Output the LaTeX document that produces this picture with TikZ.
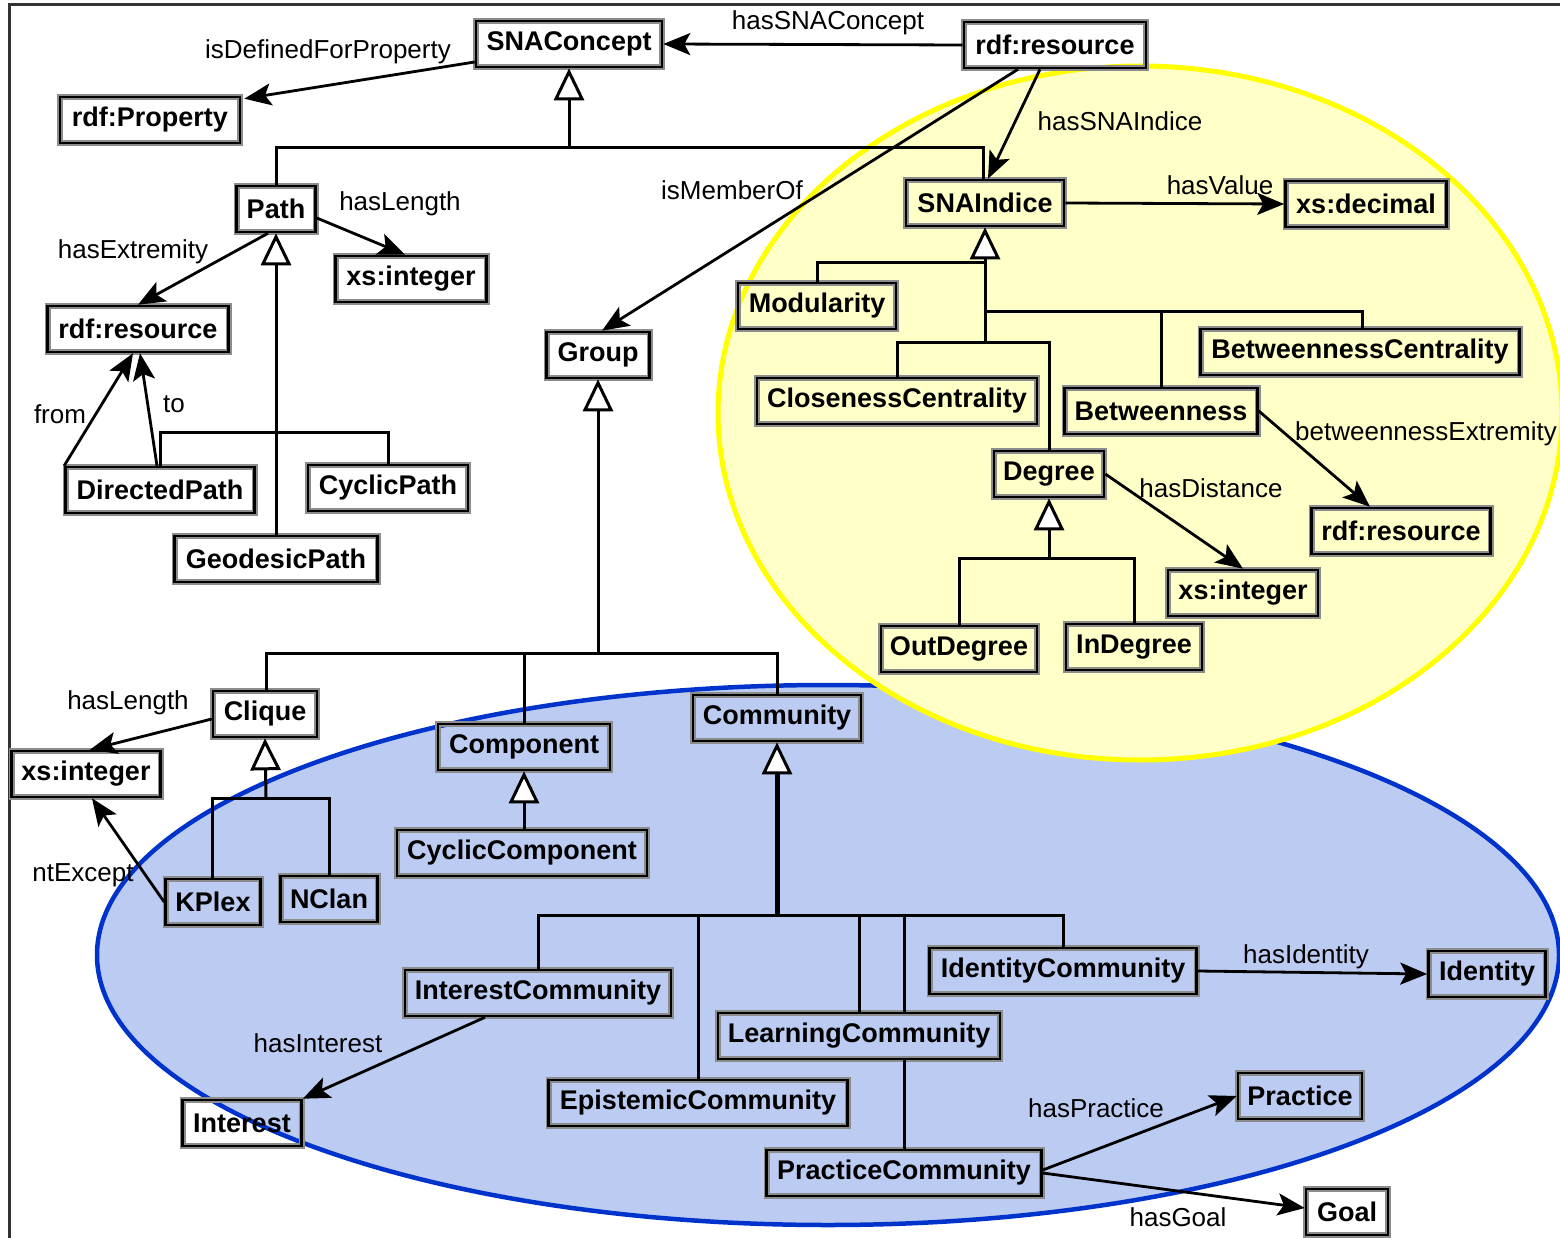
\documentclass[tikz,border=0pt]{standalone}
\usepackage{fontspec}
\setmainfont{Liberation Sans}
\usetikzlibrary{arrows.meta}
\definecolor{bluefill}{RGB}{188,203,242}
\definecolor{blueline}{RGB}{0,51,204}
\definecolor{yelfill}{RGB}{255,255,200}
\definecolor{yelline}{RGB}{255,255,0}
\begin{document}
\begin{tikzpicture}[x=1pt,y=-1pt,
  cls/.style={draw=black, line width=2.6pt, preaction={draw=black!45, line width=6pt},
    font=\fontsize{27}{30}\selectfont\bfseries,
    inner sep=0pt, minimum height=46pt},
  lbl/.style={font=\fontsize{26}{30}\selectfont, inner sep=0pt},
  rel/.style={line width=2.8pt, -{Stealth[length=27pt,width=22pt,inset=6pt]}},
  isa/.style={line width=3pt, -{Triangle[open,fill=white,length=32pt,width=30pt,line width=3pt]}},
  bus/.style={line width=3pt},
]
\useasboundingbox (0,0) rectangle (1560,1238);
\fill[white] (0,0) rectangle (1560,1238);
% frame
\draw[line width=3pt, black!80] (9,1238) -- (9,5) -- (1560,5);
% regions
\draw[fill=bluefill, draw=blueline, line width=4.5pt] (828,955) ellipse [x radius=731, y radius=270];
\draw[fill=yelfill, draw=yelline, line width=5pt] (1140,413) ellipse [x radius=422, y radius=347];

% classes
\node[cls, minimum width=186pt] (SNAConcept) at (569,44) {SNAConcept};
\node[cls, minimum width=182pt] (rdfRes) at (1055,45) {rdf:resource};
\node[cls, minimum width=180pt] (rdfProp) at (150,120) {rdf:Property};
\node[cls, minimum width=79pt] (Path) at (276,209) {Path};
\node[cls, minimum width=151pt] (xsIntP) at (411,279) {xs:integer};
\node[cls, minimum width=181pt] (rdfResL) at (138,329) {rdf:resource};
\node[cls, minimum width=189pt] (DirPath) at (160,490) {DirectedPath};
\node[cls, minimum width=160pt] (CycPath) at (388,488) {CyclicPath};
\node[cls, minimum width=203pt] (GeoPath) at (276,559) {GeodesicPath};
\node[cls, minimum width=103pt] (Group) at (598,355) {Group};
\node[cls, minimum width=158pt] (SNAIndice) at (985,203) {SNAIndice};
\node[cls, minimum width=161pt] (xsDec) at (1366,204) {xs:decimal};
\node[cls, minimum width=158pt] (Modularity) at (817,306) {Modularity};
\node[cls, minimum width=280pt] (Closeness) at (897,401) {ClosenessCentrality};
\node[cls, minimum width=319pt] (BetwC) at (1360,352) {BetweennessCentrality};
\node[cls, minimum width=193pt] (Betw) at (1161,411) {Betweenness};
\node[cls, minimum width=110pt] (Degree) at (1049,474) {Degree};
\node[cls, minimum width=179pt] (rdfResR) at (1401,531) {rdf:resource};
\node[cls, minimum width=150pt] (xsIntR) at (1243,593) {xs:integer};
\node[cls, minimum width=156pt] (OutDeg) at (959,649) {OutDegree};
\node[cls, minimum width=136pt] (InDeg) at (1134,647) {InDegree};
\node[cls, minimum width=104pt] (Clique) at (265,714) {Clique};
\node[cls, minimum width=149pt] (xsIntL) at (86,774) {xs:integer};
\node[cls, minimum width=172pt] (Component) at (524,747) {Component};
\node[cls, minimum width=168pt] (Community) at (777,718) {Community};
\node[cls, minimum width=250pt] (CycComp) at (522,853) {CyclicComponent};
\node[cls, minimum width=95pt] (KPlex) at (213,902) {KPlex};
\node[cls, minimum width=97pt] (NClan) at (329,899) {NClan};
\node[cls, minimum width=266pt] (IntComm) at (538,993) {InterestCommunity};
\node[cls, minimum width=267pt] (IdComm) at (1063,971) {IdentityCommunity};
\node[cls, minimum width=117pt] (Identity) at (1487,974) {Identity};
\node[cls, minimum width=282pt] (LearnComm) at (859,1036) {LearningCommunity};
\node[cls, minimum width=299pt] (EpiComm) at (698,1103) {EpistemicCommunity};
\node[cls, minimum width=119pt] (Interest) at (242,1123) {Interest};
\node[cls, minimum width=275pt] (PracComm) at (904,1173) {PracticeCommunity};
\node[cls, minimum width=124pt] (Practice) at (1300,1096) {Practice};
\node[cls, minimum width=82pt] (Goal) at (1347,1212) {Goal};

% inheritance: SNAConcept
\coordinate (b1) at (569,148);
\draw[isa] (b1) -- (SNAConcept.south);
\draw[bus] (Path.north) |- (b1);
\draw[bus] ([xshift=-2pt]SNAIndice.north) |- (b1);
% Path
\coordinate (b2) at (276,432);
\draw[isa] (GeoPath.north) -- (Path.south);
\draw[bus] (DirPath.north) |- (b2) -| (CycPath.north);
% Group
\coordinate (b3) at (598,653);
\draw[isa] (b3) -- (Group.south);
\draw[bus] ([xshift=1pt]Clique.north) |- (b3) -| (Community.north);
\draw[bus] (Component.north) -- (Component.north |- b3);
% SNAIndice
\coordinate (s0) at (985,343);
\coordinate (s1) at (985,263);
\coordinate (s2) at (985,312);
\draw[isa] (s0) -- (SNAIndice.south);
\draw[bus] (Modularity.north) |- (s1);
\draw[bus] ([xshift=2pt]BetwC.north) |- (s2);
\draw[bus] (Betw.north) -- (Betw.north |- s2);
\draw[bus] (Closeness.north) |- (s0) -| (Degree.north);
% Degree
\coordinate (d0) at (1049,558);
\draw[isa] (d0) -- (Degree.south);
\draw[bus] (OutDeg.north) |- (d0) -| (InDeg.north);
% Clique
\coordinate (c0) at (266,798);
\draw[isa] (c0) -- (Clique.south);
\draw[bus] ([xshift=-1pt]KPlex.north) |- (c0) -| (NClan.north);
% Component
\draw[isa] (Component.south |- CycComp.north) -- (Component.south);
% Community
\coordinate (m0) at (777,915);
\draw[line width=5pt, -{Triangle[open,fill=white,length=32pt,width=30pt,line width=3pt]}] (m0) -- (Community.south);
\draw[bus] (IntComm.north) |- (m0) -| (IdComm.north);
\draw[bus] (EpiComm.north) -- (EpiComm.north |- m0);
\draw[bus] (LearnComm.north) -- (LearnComm.north |- m0);
\draw[bus] (m0 -| PracComm.north) -- (PracComm.north |- LearnComm.north);
\draw[bus] (PracComm.north |- LearnComm.south) -- (PracComm.north);

% properties
\draw[rel] (rdfRes.west) -- (SNAConcept.east);
\node[lbl] (lSNAC) at (828,23) {hasSNAConcept};
\draw[rel] ([yshift=-18pt]SNAConcept.west) -- ([xshift=3pt,yshift=-3pt]rdfProp.north east);
\node[lbl] (lDef) at (328,52) {isDefinedForProperty};
\draw[rel] ([xshift=-15pt]rdfRes.south) -- ([xshift=3pt]SNAIndice.north);
\node[lbl] (lInd) at (1120,121) {hasSNAIndice};
\draw[rel] ([xshift=-37pt]rdfRes.south) -- ([xshift=4pt]Group.north);
\node[lbl] (lMem) at (732,190) {isMemberOf};
\draw[rel] ([yshift=-9pt]Path.east) -- ([xshift=-6pt]xsIntP.north);
\node[lbl] (lLen) at (400,204) {hasLength};
\draw[rel] ([xshift=-8pt]Path.south) -- (rdfResL.north);
\node[lbl] (lExt) at (133,252) {hasExtremity};
\draw[rel] (DirPath.north west) -- ([xshift=-5pt]rdfResL.south);
\node[lbl] (lFrom) at (60,414) {from};
\draw[rel] ([xshift=-3pt]DirPath.north) -- ([xshift=2pt]rdfResL.south);
\node[lbl] (lTo) at (174,404) {to};
\draw[rel] (SNAIndice.east) -- (xsDec.west);
\node[lbl] (lVal) at (1220,185) {hasValue};
\draw[rel] (Betw.east) -- ([xshift=-31pt]rdfResR.north);
\node[lbl, anchor=west] (lBE) at (1295,434) {betweennessExtremity};
\draw[rel] (Degree.east) -- (xsIntR.north);
\node[lbl] (lDist) at (1211,488) {hasDistance};
\draw[rel] ([yshift=-5pt]Clique.west) -- ([xshift=4pt]xsIntL.north);
\node[lbl] (lLen2) at (128,703) {hasLength};
\draw[rel] (KPlex.west) -- ([xshift=6pt]xsIntL.south);
\node[lbl] (lNt) at (83,875) {ntExcept};
\draw[rel] ([xshift=-53pt]IntComm.south) -- (Interest.north east);
\node[lbl] (lInt) at (318,1043) {hasInterest};
\draw[rel] (IdComm.east) -- (Identity.west);
\node[lbl] (lId) at (1306,957) {hasIdentity};
\draw[rel] ([yshift=3pt]PracComm.east) -- (Practice.west);
\node[lbl] (lPr) at (1096,1108) {hasPractice};
\draw[rel] (PracComm.east) -- ([yshift=4pt]Goal.west);
\node[lbl] (lGoal) at (1178,1217) {hasGoal};
\end{tikzpicture}
\end{document}
